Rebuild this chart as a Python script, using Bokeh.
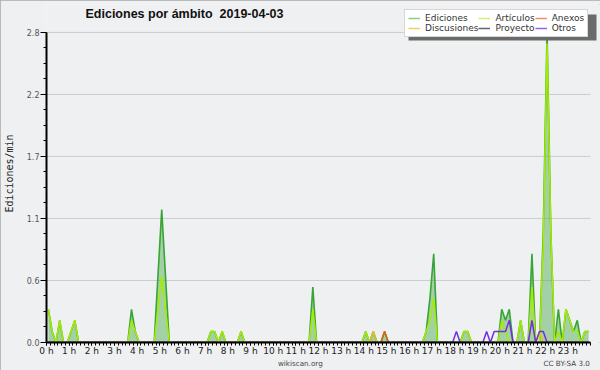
import math
from bokeh.plotting import figure
from bokeh.models import (FixedTicker, Range1d, Legend, LegendItem, Label, BoxAnnotation, LinearAxis)
from bokeh.embed import file_html
from bokeh.resources import INLINE

# ---------------- data (edits per minute, 10-minute bins, 6 per hour) ----------------
ediciones = [
    0.3, 0.1, 0, 0.2, 0, 0,      # 0 h
    0.1, 0.2, 0, 0, 0, 0,        # 1 h
    0, 0, 0, 0, 0, 0,            # 2 h
    0, 0, 0, 0, 0.3, 0.1,        # 3 h
    0, 0, 0, 0, 0, 0.6,          # 4 h
    1.2, 0.6, 0, 0, 0, 0,        # 5 h
    0, 0, 0, 0, 0, 0,            # 6 h
    0, 0.1, 0.1, 0, 0.1, 0,      # 7 h
    0, 0, 0, 0.1, 0, 0,          # 8 h
    0, 0, 0, 0, 0, 0,            # 9 h
    0, 0, 0, 0, 0, 0,            # 10 h
    0, 0, 0, 0, 0.5, 0,          # 11 h
    0, 0, 0, 0, 0, 0,            # 12 h
    0, 0, 0, 0, 0, 0,            # 13 h
    0.1, 0, 0.1, 0, 0, 0.1,      # 14 h
    0, 0, 0, 0, 0, 0,            # 15 h
    0, 0, 0, 0, 0.1, 0.4,        # 16 h
    0.8, 0, 0, 0, 0, 0,          # 17 h
    0, 0, 0.1, 0.1, 0, 0,        # 18 h
    0, 0, 0, 0, 0, 0,            # 19 h
    0.3, 0.2, 0.3, 0, 0, 0.2,    # 20 h
    0, 0, 0.8, 0, 0, 1.0,        # 21 h
    2.8, 1.0, 0, 0.3, 0, 0.3,    # 22 h
    0.2, 0.1, 0.2, 0, 0.1, 0.1,  # 23 h
]
articulos = [
    0.3, 0.1, 0, 0.2, 0, 0,
    0.1, 0.2, 0, 0, 0, 0,
    0, 0, 0, 0, 0, 0,
    0, 0, 0, 0, 0.2, 0.1,
    0, 0, 0, 0, 0, 0.3,
    0.6, 0.3, 0, 0, 0, 0,
    0, 0, 0, 0, 0, 0,
    0, 0.1, 0.1, 0, 0.1, 0,
    0, 0, 0, 0.1, 0, 0,
    0, 0, 0, 0, 0, 0,
    0, 0, 0, 0, 0, 0,
    0, 0, 0, 0, 0.3, 0,
    0, 0, 0, 0, 0, 0,
    0, 0, 0, 0, 0, 0,
    0.1, 0, 0, 0, 0, 0,
    0, 0, 0, 0, 0, 0,
    0, 0, 0, 0, 0.1, 0.2,
    0.4, 0, 0, 0, 0, 0,
    0, 0, 0.1, 0.1, 0, 0,
    0, 0, 0, 0, 0, 0,
    0.2, 0.1, 0, 0, 0, 0.2,
    0, 0, 0.5, 0, 0, 0.9,
    2.7, 1.0, 0, 0.1, 0, 0.3,
    0.2, 0.1, 0.1, 0, 0.1, 0.1,
]
discusiones = [0] * 84 + [0, 0, 0.1, 0, 0, 0] + [0] * 38 + [0, 0, 0.1, 0, 0, 0] + [0] * 12
anexos = [0] * 84 + [0, 0, 0, 0, 0, 0.1] + [0] * 54
proyecto = [0] * 144
otros = ([0] * 108 + [0.1, 0, 0, 0, 0, 0]
         + [0, 0, 0.1, 0, 0.1, 0.1]
         + [0.1, 0.1, 0.2, 0, 0, 0]
         + [0, 0, 0.2, 0, 0.1, 0.1]
         + [0] * 12)

hours = list(range(24))
hour_labels = [f"{h} h" for h in hours]
y_ticks = [0, 0.56, 1.12, 1.68, 2.24, 2.8]
y_tick_labels = ["0.0", "0.6", "1.1", "1.7", "2.2", "2.8"]
legend_names = ["Ediciones", "Discusiones", "Artículos", "Proyecto", "Anexos", "Otros"]
footer_texts = ["wikiscan.org", "CC BY-SA 3.0"]
footer_hours = [11.2, 22.95]   # where the footer texts are centred along the time axis

t = [(i + 0.5) / 6 for i in range(len(ediciones))]

BG = "#eff0f1"
FRAME_TOP = 4
FRAME_H = 343 - FRAME_TOP         # frame from y=4 to y=343
Y_TOP = 2.8 * FRAME_H / 311       # 2.8 sits at y=32
PX_PER_H = 544 / 24               # 0 h at x 46, 24 h at x 590
X_END = 554 / PX_PER_H            # frame extends to x 600

p = figure(width=600, height=370, output_backend="svg", toolbar_location=None,
           x_range=Range1d(0, X_END), y_range=Range1d(0, Y_TOP),
           min_border_left=46, min_border_right=0, min_border_top=FRAME_TOP,
           min_border_bottom=27)
p.styles = {"outline": "2px solid #a8a8a8", "outline-offset": "-2px"}
p.background_fill_color = BG
p.border_fill_color = BG
p.outline_line_color = None
p.xgrid.visible = False
p.ygrid.visible = False

# horizontal grid lines at the y ticks, limited to the 0-24 h span
p.segment(x0=0, x1=24, y0=y_ticks, y1=y_ticks, line_color="#cccccc", line_width=1)

# series
p.varea(x=t, y1=0, y2=ediciones, fill_color="#4aa84a", fill_alpha=0.45)
p.line(t, ediciones, line_color="#36a636", line_width=1.6)
p.line(t, discusiones, line_color="#e8c020", line_width=1.5)
p.line(t, anexos, line_color="#e06010", line_width=1.5)
p.line(t, proyecto, line_color="#444444", line_width=1.5)
p.line(t, articulos, line_color="#a6ec00", line_width=1.5)
p.line(t, otros, line_color="#7030e0", line_width=1.5)

# axes
xa = p.xaxis[0]
ya = p.yaxis[0]
xa.ticker = FixedTicker(ticks=hours, minor_ticks=[k / 6 for k in range(145)])
xa.major_label_overrides = {h: lab for h, lab in zip(hours, hour_labels)}
xa.bounds = (0, 24)
ya.ticker = FixedTicker(ticks=y_ticks, minor_ticks=[k * 0.14 for k in range(21)])
ya.major_label_overrides = {v: lab for v, lab in zip(y_ticks, y_tick_labels)}
ya.bounds = (0, 2.8)
for ax in (xa, ya):
    ax.axis_line_color = "black"
    ax.axis_line_width = 2
    ax.major_tick_line_color = "black"
    ax.minor_tick_line_color = "black"
    ax.major_tick_in = 0
    ax.minor_tick_in = 0
xa.major_tick_out = 3
xa.minor_tick_out = 3
xa.major_label_standoff = 0
xa.major_label_text_font = "DejaVu Sans"
xa.major_label_text_font_size = "9px"
xa.major_label_text_color = "#222222"
ya.major_tick_out = 6
ya.minor_tick_out = 3
ya.major_label_standoff = 1
ya.major_label_text_font = "DejaVu Sans"
ya.major_label_text_font_size = "8px"
ya.major_label_text_color = "#555555"
ya.axis_label = "Ediciones/min"
ya.axis_label_text_font = "DejaVu Sans Mono"
ya.axis_label_text_font_size = "10px"
ya.axis_label_text_font_style = "normal"
ya.axis_label_text_color = "#222222"
ya.axis_label_standoff = 9

# footer line below the time axis
foot = LinearAxis(ticker=FixedTicker(ticks=footer_hours, minor_ticks=[]),
                  major_label_overrides={h: s for h, s in zip(footer_hours, footer_texts)},
                  axis_line_color=None, major_tick_line_color=None, minor_tick_line_color=None,
                  major_tick_out=0, minor_tick_out=0, major_tick_in=0, minor_tick_in=0,
                  major_label_standoff=0,
                  major_label_text_font="DejaVu Sans", major_label_text_font_size="7.2px",
                  major_label_text_color="#444444")
p.add_layout(foot, "below")

FL, FB = 46, 343
def sx(px):
    return px - FL
def sy(py):
    return FB - py

# title (inside the frame area)
p.add_layout(Label(x=sx(85), y=sy(14), x_units="screen", y_units="screen",
                   text="Ediciones por ámbito \u00a02019-04-03", text_font="Liberation Sans",
                   text_font_style="bold", text_font_size="12.5px", text_color="#111111",
                   text_baseline="middle", text_align="left"))

# legend shadow
p.add_layout(BoxAnnotation(left=sx(408), right=sx(596), top=sy(15), bottom=sy(41),
                           left_units="screen", right_units="screen", top_units="screen",
                           bottom_units="screen", fill_color="#6a6a6a", fill_alpha=1,
                           line_color=None))

legend_colors = ["#88cc88", "#f5d060", "#ccf070", "#666666", "#f09060", "#9a60f0"]
nan = float("nan")
items = []
for name, col in zip(legend_names, legend_colors):
    r = p.line([nan], [nan], line_color=col, line_width=1.5)
    items.append(LegendItem(label=name, renderers=[r]))
legend = Legend(items=items, location=(sx(404), sy(38)), nrows=2, orientation="vertical",
                padding=3, spacing=0, margin=0, glyph_width=12, glyph_height=10,
                label_height=10, label_standoff=5, label_text_font="DejaVu Sans",
                label_text_font_size="9px", label_text_color="#333333",
                border_line_color="#b0b0b0", background_fill_color="white",
                background_fill_alpha=1)
p.add_layout(legend)

open("out.html", "w").write(file_html(p, INLINE))
